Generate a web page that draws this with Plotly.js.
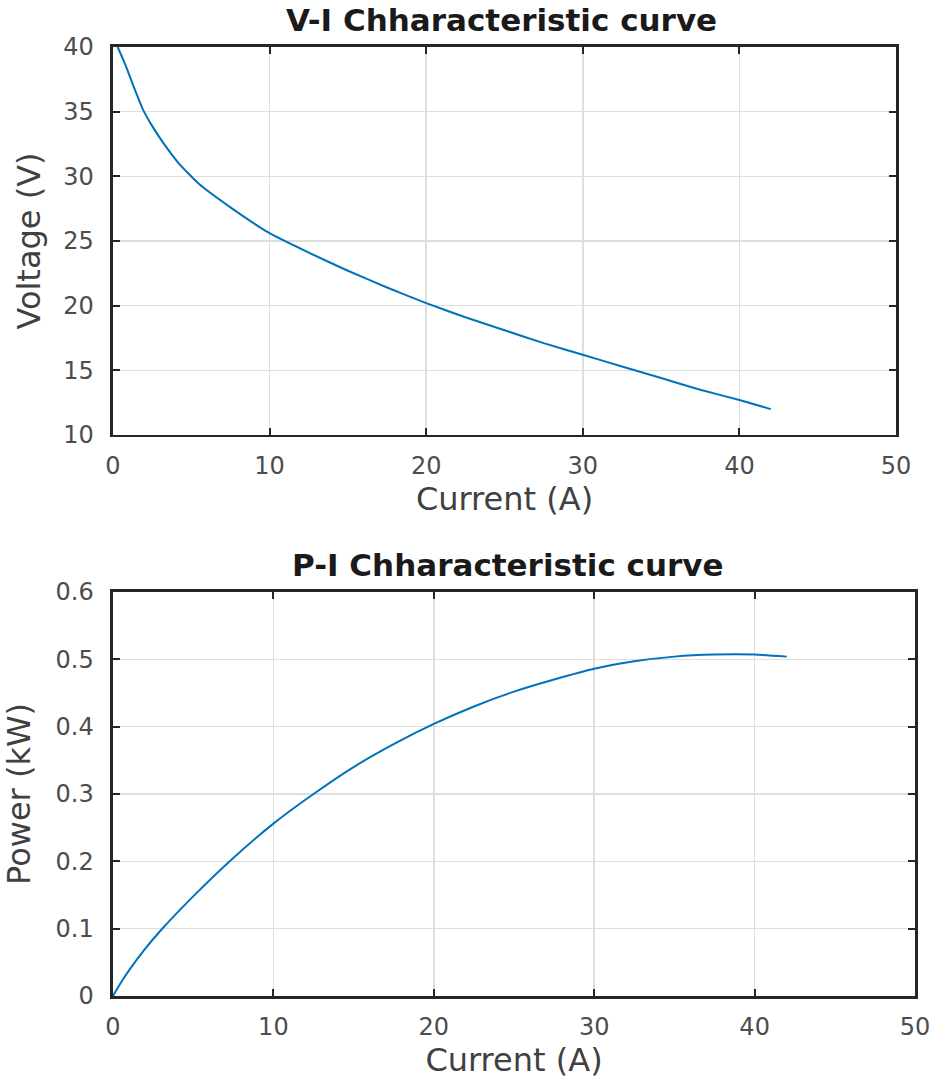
<!DOCTYPE html>
<html>
<head>
<meta charset="utf-8">
<script src="https://cdn.plot.ly/plotly-3.0.1.min.js"></script>
<style>html,body{margin:0;padding:0;background:#fff;}#chart{width:936px;height:1085px;}</style>
</head>
<body>
<div id="chart"></div>
<script>
// V-I characteristic
const currentVI = [0.3, 0.8, 1.3, 1.9, 2.5, 3.2, 4.2, 5.5, 7.5, 10, 12.5, 15, 17.5, 20, 22.5, 25, 27.5, 30, 32.5, 35, 37.5, 40, 42];
const voltage   = [40, 38.6, 37.0, 35.2, 33.9, 32.6, 31.0, 29.4, 27.6, 25.6, 24.1, 22.7, 21.4, 20.2, 19.1, 18.1, 17.1, 16.2, 15.3, 14.4, 13.5, 12.7, 12.0];
// P-I characteristic
const currentPI = [0, 0.5, 1, 2, 3, 5, 7.5, 10, 12.5, 15, 17.5, 20, 22.5, 25, 27.5, 30, 32.5, 35, 37.5, 40, 42];
const power     = [0, 0.02, 0.038, 0.07, 0.098, 0.148, 0.205, 0.256, 0.300, 0.340, 0.374, 0.404, 0.430, 0.452, 0.470, 0.486, 0.497, 0.504, 0.507, 0.507, 0.504];

const xTicks = [0, 10, 20, 30, 40, 50];
const vTicks = [10, 15, 20, 25, 30, 35, 40];
const pTicks = [0, 0.1, 0.2, 0.3, 0.4, 0.5, 0.6];
const pTickText = ['0', '0.1', '0.2', '0.3', '0.4', '0.5', '0.6'];

const lineColor = '#0072BD';
const fontFam = '"DejaVu Sans", "Liberation Sans", Arial, sans-serif';
const tickFont = {family: fontFam, size: 24, color: '#4d4d4d'};
const titleFont = {family: fontFam, size: 32, color: '#404040'};

function axisBase(extra) {
  return Object.assign({
    showline: true, linecolor: '#262626', linewidth: 2.5, mirror: 'ticks',
    ticks: 'inside', ticklen: 7, tickwidth: 2, tickcolor: '#262626',
    showgrid: true, gridcolor: '#dedede', gridwidth: 1.5,
    zeroline: false, tickfont: tickFont, fixedrange: true
  }, extra);
}

const traces = [
  {x: currentVI, y: voltage, type: 'scatter', mode: 'lines', line: {color: lineColor, width: 2, shape: 'spline', smoothing: 0.5}, xaxis: 'x', yaxis: 'y', hoverinfo: 'skip'},
  {x: currentPI, y: power, type: 'scatter', mode: 'lines', line: {color: lineColor, width: 2, shape: 'spline', smoothing: 0.5}, xaxis: 'x2', yaxis: 'y2', hoverinfo: 'skip'}
];

const layout = {
  width: 936, height: 1085,
  margin: {l: 0, r: 0, t: 0, b: 0},
  paper_bgcolor: '#ffffff', plot_bgcolor: '#ffffff',
  showlegend: false,
  xaxis: axisBase({domain: [0.1207, 0.9573], range: [0, 50], tickvals: xTicks, anchor: 'y', ticklabelstandoff: 8,
    title: {text: 'Current (A)', font: titleFont, standoff: 4}}),
  yaxis: axisBase({domain: [0.5991, 0.9567], range: [10, 40], tickvals: vTicks, anchor: 'x', ticklabelstandoff: 12,
    title: {text: 'Voltage (V)', font: titleFont, standoff: 13}}),
  xaxis2: axisBase({domain: [0.1207, 0.9776], range: [0, 50], tickvals: xTicks, anchor: 'y2', ticklabelstandoff: 8,
    title: {text: 'Current (A)', font: titleFont, standoff: 4}}),
  yaxis2: axisBase({domain: [0.0820, 0.4544], range: [0, 0.6], tickvals: pTicks, ticktext: pTickText, anchor: 'x2', ticklabelstandoff: 12,
    title: {text: 'Power (kW)', font: titleFont, standoff: 17}}),
  annotations: [
    {text: '<b>V-I Chharacteristic curve</b>', xref: 'paper', yref: 'paper', x: 501/936, y: 1 - 20/1085,
     xanchor: 'center', yanchor: 'middle', showarrow: false, font: {family: fontFam, size: 31, color: '#1a1a1a'}},
    {text: '<b>P-I Chharacteristic curve</b>', xref: 'paper', yref: 'paper', x: 508/936, y: 1 - 565/1085,
     xanchor: 'center', yanchor: 'middle', showarrow: false, font: {family: fontFam, size: 31, color: '#1a1a1a'}}
  ]
};

Plotly.newPlot('chart', traces, layout, {displayModeBar: false, staticPlot: true});
</script>
</body>
</html>
